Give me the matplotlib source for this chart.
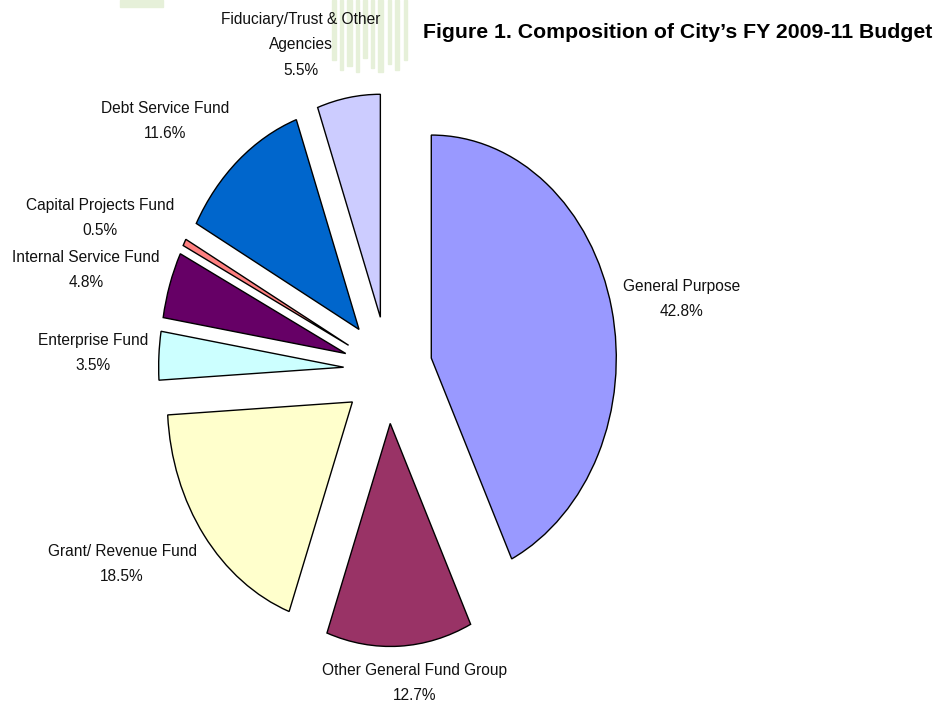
import matplotlib
matplotlib.use("Agg")
import matplotlib.pyplot as plt
from matplotlib.patches import Rectangle

# ---- data ----
categories = ["General Purpose", "Other General Fund Group", "Grant/ Revenue Fund",
              "Enterprise Fund", "Internal Service Fund", "Capital Projects Fund",
              "Debt Service Fund", "Fiduciary/Trust & Other\nAgencies"]
values = [42.8, 12.7, 18.5, 3.5, 4.8, 0.5, 11.6, 5.5]
pct_labels = ["42.8%", "12.7%", "18.5%", "3.5%", "4.8%", "0.5%", "11.6%", "5.5%"]
colors = ["#9999FF", "#993366", "#FFFFCC", "#CCFFFF", "#660066", "#FF8080",
          "#0066CC", "#CCCCFF"]
title = "Figure 1. Composition of City\u2019s FY 2009-11 Budget"

W, H = 951, 705
fig = plt.figure(figsize=(W / 100, H / 100), dpi=100)
ax = fig.add_axes([0, 0, 1, 1])

# pixel geometry of the (vertically stretched) pie
cx, cy = 388, 370
rx, ry = 185, 223

# faint green background decoration near the top
for (x0, w, h) in [(332, 4, 60), (340, 3, 70), (347, 5, 66), (356, 3, 72), (363, 4, 58),
                   (371, 3, 68), (378, 5, 72), (388, 3, 64), (395, 4, 70), (404, 3, 60)]:
    fig.patches.append(Rectangle((x0 / W, 1 - h / H), w / W, h / H,
                                 transform=fig.transFigure, color="#e6f0d9",
                                 zorder=-5))
fig.patches.append(Rectangle((120 / W, 1 - 7 / H), 43 / W, 7 / H,
                             transform=fig.transFigure, color="#e6f0d9", zorder=-5))
ax.set_zorder(1)
ax.patch.set_visible(False)

wedges, _ = ax.pie(values, colors=colors, startangle=90, counterclock=False,
                   explode=[0.24] * len(values), radius=1.0,
                   wedgeprops=dict(edgecolor="black", linewidth=1.0))
ax.set_aspect("auto")
ax.set_xlim(-cx / rx, (W - cx) / rx)
ax.set_ylim(-(H - cy) / ry, cy / ry)
ax.axis("off")

def px2data(x, y):
    return (x - cx) / rx, (cy - y) / ry

label_pos = [(682, 299), (415, 683), (122, 564), (93, 353), (86, 270),
             (100, 218), (165, 121), (301, 45)]
font = ["Liberation Sans Narrow", "Liberation Sans", "DejaVu Sans"]
for cat, pct, (x, y) in zip(categories, pct_labels, label_pos):
    dx, dy = px2data(x, y)
    ax.text(dx, dy, f"{cat}\n{pct}", ha="center", va="center", fontsize=11.2,
            family=font, linespacing=1.87, color="#111111")

fig.text(932 / W, 1 - 33 / H, title, ha="right", va="center", fontsize=15.3,
         fontweight="bold", family=font, color="black")

fig.savefig("out.png", dpi=100)
